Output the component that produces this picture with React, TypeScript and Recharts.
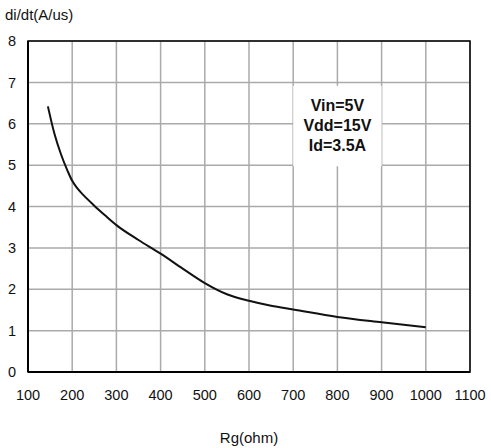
import React from "react";
import {
  LineChart,
  Line,
  XAxis,
  YAxis,
  CartesianGrid,
  ReferenceArea,
  Label,
} from "recharts";

const rgOhm = [145, 160, 175, 190, 200, 210, 225, 250, 275, 300, 350, 400, 450, 500, 550, 600, 650, 700, 800, 900, 1000];
const didt = [6.42, 5.75, 5.25, 4.85, 4.62, 4.46, 4.28, 4.02, 3.78, 3.55, 3.19, 2.86, 2.5, 2.15, 1.88, 1.72, 1.6, 1.51, 1.33, 1.2, 1.08];
const xTicks = [100, 200, 300, 400, 500, 600, 700, 800, 900, 1000, 1100];
const yTicks = [0, 1, 2, 3, 4, 5, 6, 7, 8];
const noteLines = ["Vin=5V", "Vdd=15V", "Id=3.5A"];

const data = rgOhm.map((x, i) => ({ x, y: didt[i] }));

const FONT = "'Liberation Sans', Arial, sans-serif";

const NoteLabel = (props: any) => {
  const vb = props.viewBox || {};
  const cx = vb.x + vb.width / 2;
  const top = vb.y;
  return (
    <g>
      {noteLines.map((t, i) => (
        <text
          key={t}
          x={cx}
          y={top + 25 + i * 20}
          textAnchor="middle"
          fontFamily={FONT}
          fontWeight="bold"
          fontSize={16}
          fill="#111"
        >
          {t}
        </text>
      ))}
    </g>
  );
};

export default function App() {
  return (
    <div style={{ position: "absolute", left: 0, top: 0, width: 491, height: 448, background: "#fff" }}>
      <div
        style={{
          position: "absolute",
          left: 5,
          top: 6,
          fontFamily: FONT,
          fontSize: 15,
          color: "#111",
          whiteSpace: "nowrap",
        }}
      >
        di/dt(A/us)
      </div>
      <LineChart
        width={491}
        height={448}
        data={data}
        margin={{ top: 41, right: 21, left: 0, bottom: 0 }}
      >
        <CartesianGrid stroke="#aaaaaa" strokeWidth={1.5} />
        <XAxis
          type="number"
          dataKey="x"
          domain={[100, 1100]}
          ticks={xTicks}
          interval={0}
          height={76}
          axisLine={{ stroke: "#000", strokeWidth: 2 }}
          tickLine={false}
          tickSize={0}
          tickMargin={18}
          tick={{ fontFamily: FONT, fontSize: 14.5, fill: "#111" }}
        >
          <Label
            value="Rg(ohm)"
            position="insideBottom"
            offset={5}
            style={{ fontFamily: FONT, fontSize: 15, fill: "#111" }}
          />
        </XAxis>
        <YAxis
          type="number"
          domain={[0, 8]}
          ticks={yTicks}
          interval={0}
          width={28}
          axisLine={{ stroke: "#000", strokeWidth: 2 }}
          tickLine={false}
          tickSize={0}
          tickMargin={12}
          tick={{ fontFamily: FONT, fontSize: 14.5, fill: "#111" }}
        />
        <ReferenceArea
          x1={700}
          x2={900}
          y1={4.97}
          y2={6.92}
          fill="#ffffff"
          fillOpacity={1}
          stroke="none"
          label={<NoteLabel />}
        />
        <ReferenceArea
          x1={100}
          x2={1100}
          y1={0}
          y2={8}
          fill="none"
          stroke="#000"
          strokeWidth={1.5}
        />
        <Line
          type="monotone"
          dataKey="y"
          stroke="#111"
          strokeWidth={2}
          dot={false}
          isAnimationActive={false}
        />
      </LineChart>
    </div>
  );
}
